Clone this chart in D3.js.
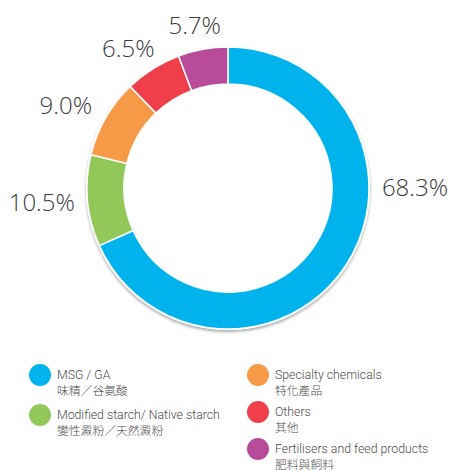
<!DOCTYPE html>
<html>
<head>
<meta charset="utf-8">
<script src="https://cdn.jsdelivr.net/npm/d3@7"></script>
<style>
  body { margin: 0; background: #fff; }
  .pct { font-family: "Open Sans", sans-serif; font-weight: 300; font-size: 24px; fill: #3a3a3a; }
  .leg-en { font-family: Roboto, "Liberation Sans", sans-serif; font-weight: 300; font-size: 12.3px; fill: #4a4a4a; }
  .leg-zh { font-family: "Noto Sans CJK TC", sans-serif; font-weight: 300; font-size: 11.8px; fill: #4a4a4a; }
</style>
</head>
<body>
<div id="chart"></div>
<script>
const categories = ["MSG / GA", "Modified starch/ Native starch", "Specialty chemicals", "Others", "Fertilisers and feed products"];
const categoriesZh = ["味精／谷氨酸", "變性澱粉／天然澱粉", "特化產品", "其他", "肥料與飼料"];
const values = [68.3, 10.5, 9.0, 6.5, 5.7];
const colors = ["#00b3ec", "#92c85a", "#f79a48", "#ee3f4a", "#b84b9a"];

let width = 454,
    height = 470,
    cx = 228, cy = 188,
    outerR = 141, innerR = 104,
    labelRx = 187, labelRy = 165;

const data = categories.map((c, i) => ({ name: c, zh: categoriesZh[i], value: values[i], color: colors[i] }));

const svg = d3.select("#chart")
  .append("svg")
  .attr("width", width)
  .attr("height", height);

const defs = svg.append("defs");
const shadow = defs.append("filter").attr("id", "shadow")
  .attr("x", "-20%").attr("y", "-20%").attr("width", "140%").attr("height", "140%");
shadow.append("feDropShadow")
  .attr("dx", 0).attr("dy", 2).attr("stdDeviation", 1.5)
  .attr("flood-color", "#000").attr("flood-opacity", 0.35);

const pie = d3.pie().sort(null).value(d => d.value);
const arcs = pie(data);
const arc = d3.arc().innerRadius(innerR).outerRadius(outerR);

const g = svg.append("g").attr("transform", `translate(${cx},${cy})`);

// white disc underneath so the shadow gets a white rim
g.append("circle")
  .attr("r", outerR + 1)
  .attr("fill", "#fff")
  .attr("filter", "url(#shadow)");

g.selectAll("path")
  .data(arcs)
  .join("path")
  .attr("d", arc)
  .attr("fill", d => d.data.color)
  .attr("stroke", "#fff")
  .attr("stroke-width", 1.5);

g.append("circle").attr("r", innerR - 0.5).attr("fill", "#fff");

// percentage labels sit on an ellipse round the ring
const labelAngle = d => {
  let a = (d.startAngle + d.endAngle) / 2;
  if (a > Math.PI / 2 && a <= Math.PI) a = Math.PI / 2;
  return a;
};
g.selectAll("text.pct")
  .data(arcs)
  .join("text")
  .attr("class", "pct")
  .attr("x", d => Math.sin(labelAngle(d)) * labelRx)
  .attr("y", d => -Math.cos(labelAngle(d)) * labelRy)
  .attr("dy", "0.35em")
  .attr("text-anchor", "middle")
  .text(d => d.value.toFixed(1) + "%");

// legend
const colX = d3.scaleOrdinal().domain([0, 1]).range([40, 258]);
const rowY = d3.scaleLinear().domain([0, 1]).range([375, 412]);

const leg = svg.append("g")
  .selectAll("g")
  .data(data)
  .join("g")
  .attr("transform", (d, i) => {
    const col = i < 2 ? 0 : 1, row = i < 2 ? i : i - 2;
    return `translate(${colX(col)},${rowY(row) + (col === 0 && row === 1 ? 3 : 0)})`;
  });

leg.append("circle").attr("r", 11).attr("fill", d => d.color);
leg.append("text").attr("class", "leg-en").attr("x", 17).attr("y", 4).text(d => d.name);
leg.append("text").attr("class", "leg-zh").attr("x", 17).attr("y", 19.5).text(d => d.zh);
</script>
</body>
</html>
